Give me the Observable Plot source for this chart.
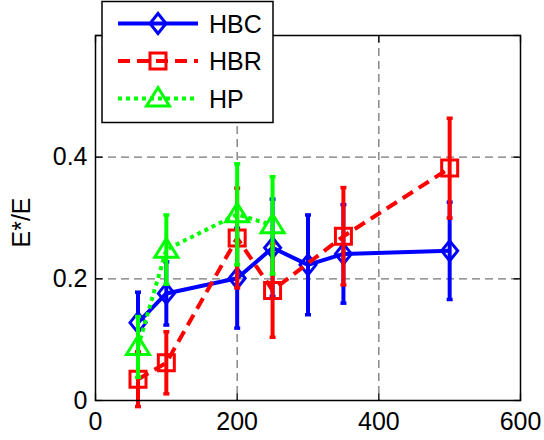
<!DOCTYPE html>
<html>
<head>
<meta charset="utf-8">
<script src="https://cdn.jsdelivr.net/npm/d3@7"></script>
<script src="https://cdn.jsdelivr.net/npm/@observablehq/plot@0.6"></script>
<style>
  html, body { margin: 0; padding: 0; background: #fff; overflow: hidden; }
  #chart svg { display: block; }
</style>
</head>
<body>
<div id="chart"></div>
<script>
// ---- data ----
const hbcX = [60, 100, 200, 250, 300, 350, 500];
const hbcY = [0.128, 0.176, 0.201, 0.251, 0.223, 0.241, 0.246];
const hbcErr = [0.050, 0.052, 0.082, 0.080, 0.082, 0.081, 0.080];

const hbrX = [60, 100, 200, 250, 350, 500];
const hbrY = [0.035, 0.062, 0.267, 0.181, 0.270, 0.382];
const hbrErr = [0.045, 0.051, 0.082, 0.077, 0.080, 0.082];

const hpX = [60, 100, 200, 250];
const hpY = [0.088, 0.248, 0.306, 0.288];
const hpErr = [0.050, 0.057, 0.083, 0.080];

const xTicks = [0, 200, 400, 600];
const yTicks = [0, 0.2, 0.4];
const xGrid = [200, 400];
const yGrid = [0.2, 0.4];

const seriesNames = ["HBC", "HBR", "HP"];
const seriesColors = ["#0000ff", "#ff0000", "#00ff00"];
const seriesDash = [null, "12,7", "4,4"];

// ---- symbols ----
const diamond = {draw(c) { c.moveTo(0, -10); c.lineTo(8, 0); c.lineTo(0, 10); c.lineTo(-8, 0); c.closePath(); }};
const square = {draw(c) { c.moveTo(-8, -8); c.lineTo(8, -8); c.lineTo(8, 8); c.lineTo(-8, 8); c.closePath(); }};
const triangle = {draw(c) { c.moveTo(0, -11); c.lineTo(11.5, 7.5); c.lineTo(-11.5, 7.5); c.closePath(); }};
const cap = {draw(c) { c.moveTo(-3, 0); c.lineTo(3, 0); }};
const hTick = {draw(c) { c.moveTo(-3.5, 0); c.lineTo(3.5, 0); }};
const vTick = {draw(c) { c.moveTo(0, -3.5); c.lineTo(0, 3.5); }};
const seriesSymbols = [diamond, square, triangle];

const rows = (xs, ys, es) => xs.map((x, i) => ({x, y: ys[i], e: es[i]}));
const series = [
  rows(hbcX, hbcY, hbcErr),
  rows(hbrX, hbrY, hbrErr),
  rows(hpX, hpY, hpErr)
];

const FONT = "'Liberation Sans', Arial, Helvetica, sans-serif";

function seriesMarks(data, i) {
  const color = seriesColors[i];
  return [
    Plot.ruleX(data, {x: "x", y1: d => d.y - d.e, y2: d => d.y + d.e, stroke: color, strokeWidth: 4}),
    Plot.dot(data, {x: "x", y: d => d.y - d.e, symbol: cap, stroke: color, strokeWidth: 3.5, fill: "none"}),
    Plot.dot(data, {x: "x", y: d => d.y + d.e, symbol: cap, stroke: color, strokeWidth: 3.5, fill: "none"}),
    Plot.line(data, {x: "x", y: "y", stroke: color, strokeWidth: 4, strokeDasharray: seriesDash[i] || undefined, strokeLinecap: "butt"}),
    Plot.dot(data, {x: "x", y: "y", symbol: seriesSymbols[i], stroke: color, strokeWidth: 3, fill: "none"})
  ];
}

const chart = Plot.plot({
  width: 544,
  height: 440,
  marginLeft: 95,
  marginRight: 24,
  marginTop: 35,
  marginBottom: 40,
  style: {fontFamily: FONT, fontSize: "25px", background: "#fff", overflow: "visible"},
  x: {domain: [0, 600]},
  y: {domain: [0, 0.6]},
  marks: [
    Plot.ruleX(xGrid, {x: d => d, stroke: "#777", strokeWidth: 1.3, strokeDasharray: "8,5"}),
    Plot.ruleY(yGrid, {y: d => d, stroke: "#777", strokeWidth: 1.3, strokeDasharray: "8,5"}),
    Plot.axisX(xTicks, {tickSize: 0, tickPadding: 12, tickFormat: d => String(d), fontSize: 25, fill: "#000", label: null}),
    Plot.axisY(yTicks, {tickSize: 0, tickPadding: 8, tickFormat: d => String(d), fontSize: 25, fill: "#000", label: null}),
    Plot.dot(yTicks.concat([0.6]), {y: d => d, frameAnchor: "left", dx: 3.5, symbol: hTick, stroke: "#000", strokeWidth: 1.3}),
    Plot.dot(yTicks.concat([0.6]), {y: d => d, frameAnchor: "right", dx: -3.5, symbol: hTick, stroke: "#000", strokeWidth: 1.3}),
    Plot.dot(xTicks, {x: d => d, frameAnchor: "bottom", dy: -3.5, symbol: vTick, stroke: "#000", strokeWidth: 1.3}),
    Plot.dot(xTicks, {x: d => d, frameAnchor: "top", dy: 3.5, symbol: vTick, stroke: "#000", strokeWidth: 1.3}),
    Plot.text(["E*/E"], {frameAnchor: "left", textAnchor: "middle", dx: -74, dy: 4.5, rotate: -90, fontSize: 25, fill: "#000"}),
    ...series.flatMap((d, i) => seriesMarks(d, i)),
    Plot.frame({stroke: "#000", strokeWidth: 1.5})
  ]
});

document.getElementById("chart").appendChild(chart);

// ---- legend (drawn over the plot, MATLAB style) ----
const svg = d3.select(chart);
const lg = svg.append("g").attr("font-family", FONT).attr("text-anchor", "start");
lg.append("rect").attr("x", 102).attr("y", 1.5).attr("width", 171).attr("height", 121)
  .attr("fill", "#fff").attr("stroke", "#000").attr("stroke-width", 1.5);
const rowY = [23.5, 61, 98.5];
seriesNames.forEach((name, i) => {
  const y = rowY[i];
  lg.append("line").attr("x1", 118).attr("x2", 198).attr("y1", y).attr("y2", y)
    .attr("stroke", seriesColors[i]).attr("stroke-width", 4)
    .attr("stroke-dasharray", seriesDash[i]);
  const p = d3.path();
  seriesSymbols[i].draw(p, 0);
  lg.append("path").attr("d", p.toString()).attr("transform", `translate(158,${y})`)
    .attr("fill", "none").attr("stroke", seriesColors[i]).attr("stroke-width", 3);
  lg.append("text").attr("x", 209).attr("y", y).attr("dy", "0.36em")
    .attr("text-anchor", "start")
    .attr("font-size", 25).attr("fill", "#000").text(name);
});
</script>
</body>
</html>
